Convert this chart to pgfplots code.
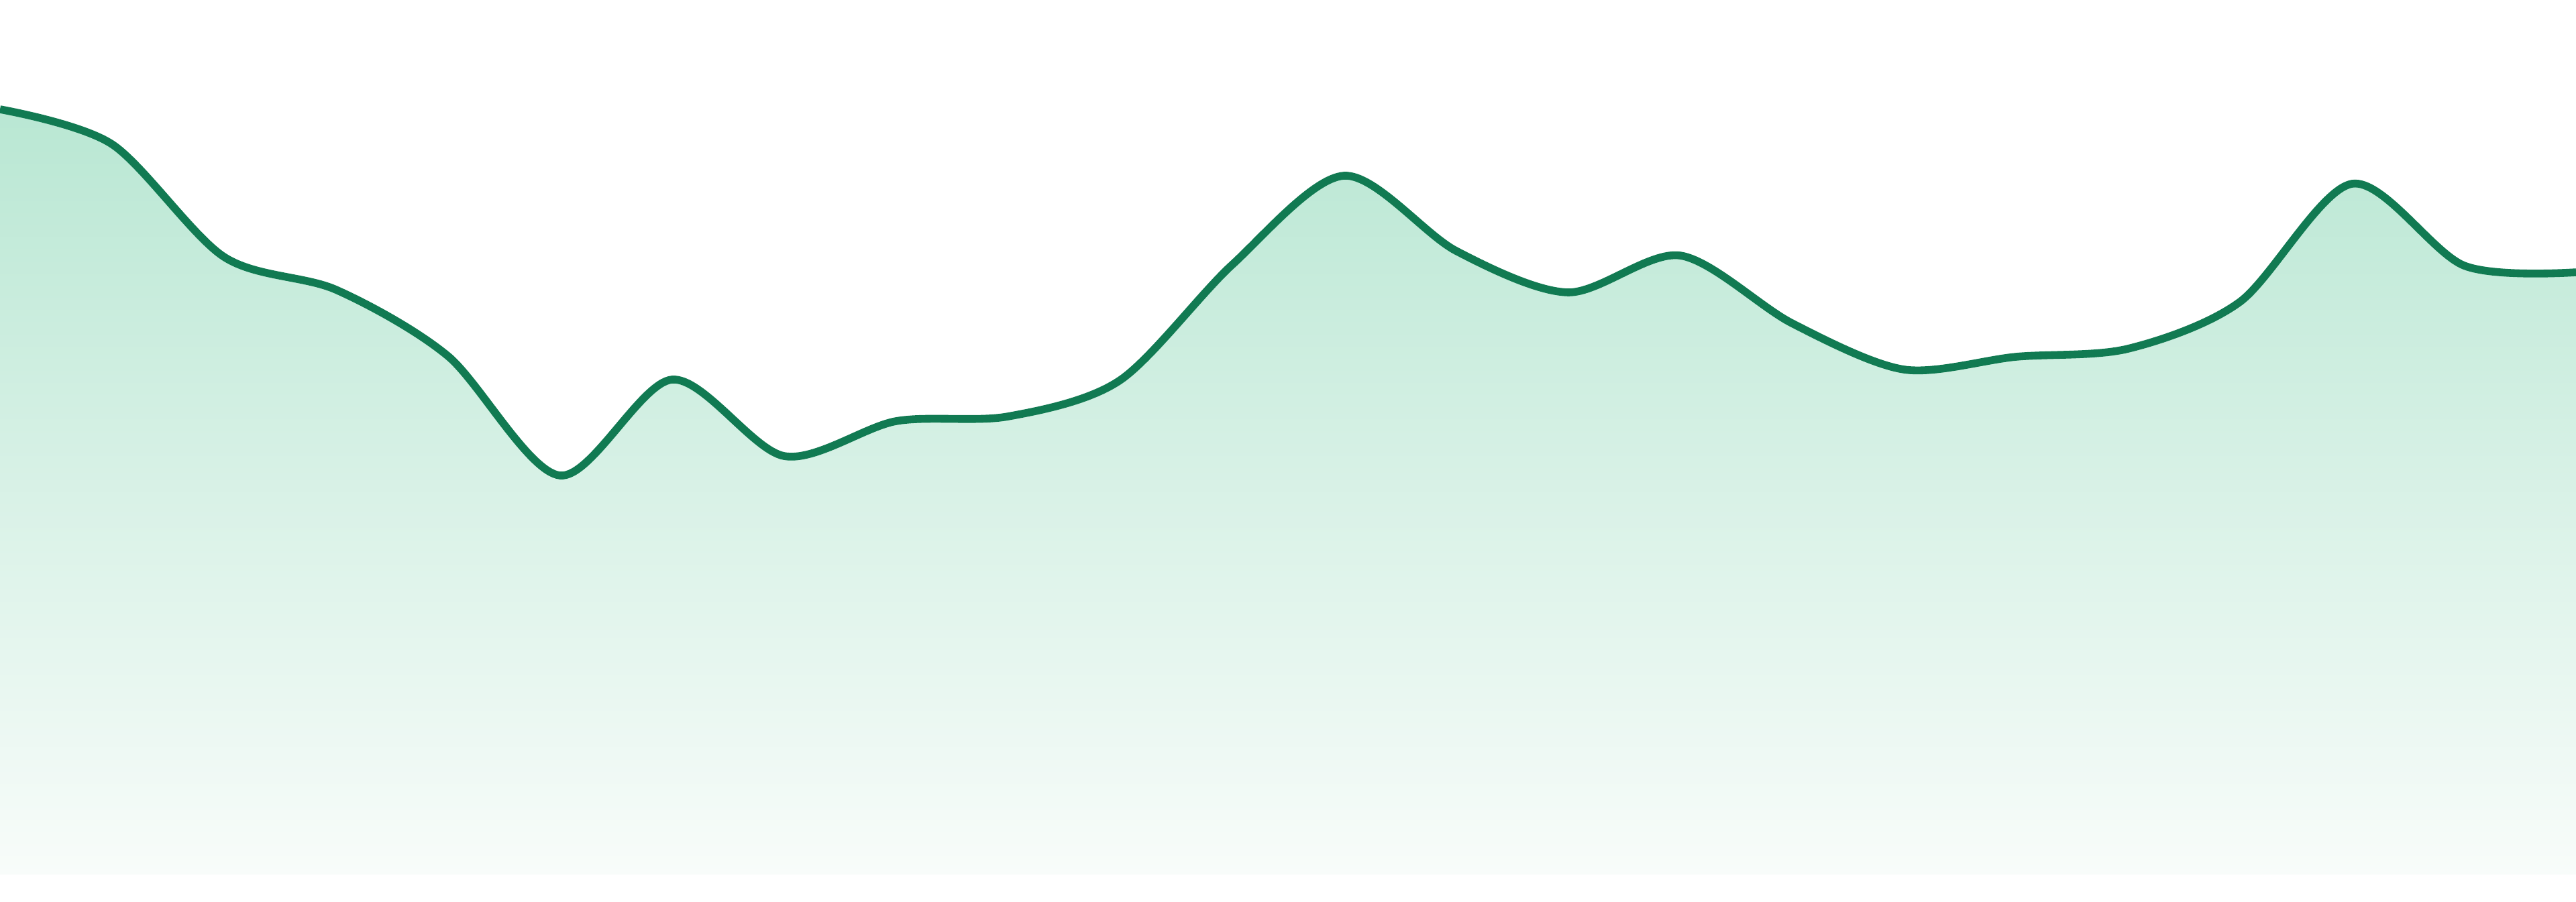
\documentclass[border=0pt]{standalone}
\usepackage{pgfplots}
\pgfplotsset{compat=1.18}
\definecolor{lineGreen}{RGB}{17,122,82}
\definecolor{fillTop}{RGB}{185,231,211}
\definecolor{fillBot}{RGB}{248,252,250}
\pgfplotstableread{
x y
0 1141
1 1089
2 921
3 872
4 773
5 595
6 738
7 624
8 676
9 683
10 737
11 909
12 1042
13 930
14 868
15 923
16 822
17 753
18 772
19 784
20 854
21 1030
22 908
23 898
}\datatable
\begin{document}
\begin{tikzpicture}
\useasboundingbox (0,0) rectangle (38.4cm,13.44cm);
\begin{axis}[
  at={(0,0)}, anchor=south west,
  width=38.4cm, height=13.44cm, scale only axis,
  axis lines=none, ticks=none,
  xmin=0, xmax=23, ymin=-40, ymax=1304,
  clip=true,
]
\addplot[draw=none, smooth, tension=0.5, top color=fillTop, bottom color=fillBot] table {\datatable} \closedcycle;
\addplot[lineGreen, line width=3.3pt, smooth, tension=0.5] table {\datatable};
\end{axis}
\end{tikzpicture}
\end{document}
